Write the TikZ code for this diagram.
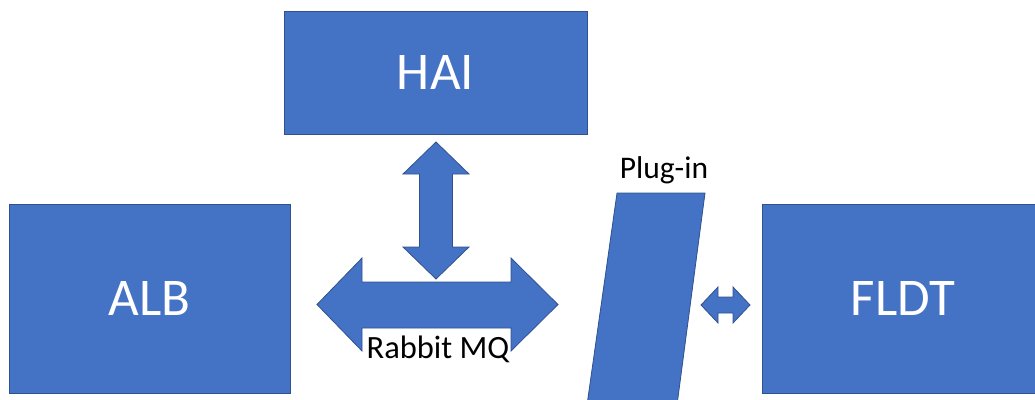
\documentclass[tikz,border=0pt]{standalone}
\usepackage{fontspec}
\setmainfont{Carlito}
\definecolor{boxfill}{HTML}{4472C4}
\definecolor{boxline}{HTML}{2F528F}
\begin{document}
\begin{tikzpicture}[x=1pt,y=-1pt,
  block/.style={fill=boxfill,draw=boxline,line width=0.8pt},
  sysbox/.style={block,rectangle,inner sep=0pt,text=white,
    font=\fontsize{53}{60}\selectfont},
  caption/.style={inner sep=0pt,anchor=base,text=black,
    font=\fontsize{31.5}{36}\selectfont}]
\useasboundingbox (0,0) rectangle (1035,399);
\begin{scope}
\clip (0,0) rectangle (1035,399);
% system boxes
\node[sysbox,minimum width=303pt,minimum height=123pt] (hai) at (435.5,72.5) {HAI};
\node[sysbox,minimum width=281pt,minimum height=189pt] (alb) at (149.5,298.5) {ALB};
\node[sysbox,minimum width=282pt,minimum height=189pt] (fldt) at (903,298.5) {FLDT};
% plug-in slab
\path[block] (617,193) -- (705,193) -- (677,405) -- (587,405) -- cycle;
\coordinate (plugtop) at (661,193);
% vertical double arrow between HAI and the message bus
\path[block] (436,142) -- (469,174) -- (452.5,174) -- (452.5,247) -- (469,247)
  -- (436,279) -- (403,247) -- (419.5,247) -- (419.5,174) -- (403,174) -- cycle;
% horizontal double arrow (message bus)
\path[block] (317,304.5) -- (362,258) -- (362,282) -- (511,282) -- (511,258)
  -- (558,304.5) -- (511,351) -- (511,328) -- (362,328) -- (362,351) -- cycle;
% small double arrow between plug-in and FLDT
\path[block] (701,305) -- (718,287) -- (718,297) -- (733,297) -- (733,287)
  -- (750,305) -- (733,323) -- (733,313) -- (718,313) -- (718,323) -- cycle;
% labels
\node[caption,font=\fontsize{32.5}{38}\selectfont] (rmq) at (438,358) {Rabbit MQ};
\node[caption] (plug) at (664,178) {Plug-in};
\end{scope}
\end{tikzpicture}
\end{document}
